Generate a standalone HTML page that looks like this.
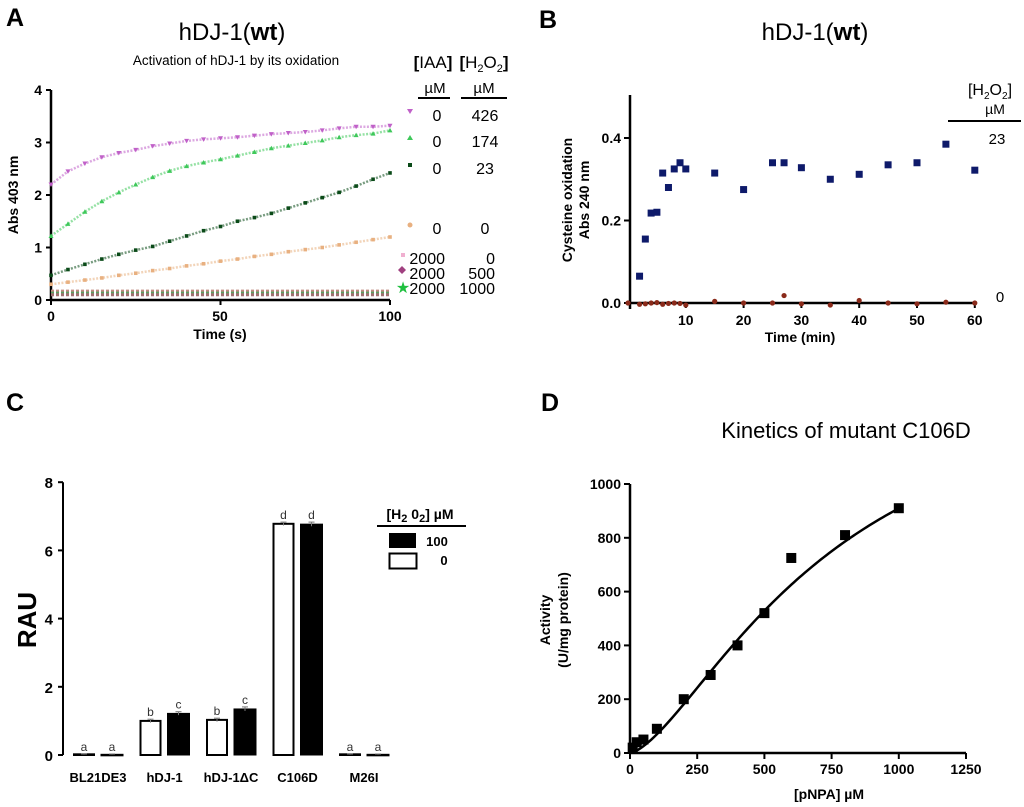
<!DOCTYPE html>
<html><head><meta charset="utf-8">
<style>
html,body{margin:0;padding:0;background:#fff;}
svg{display:block;font-family:"Liberation Sans",Arial,sans-serif;}
.b{font-weight:bold;}
</style></head>
<body>
<svg id="fig" width="1024" height="807" viewBox="0 0 1024 807" xmlns="http://www.w3.org/2000/svg">
<text x="6" y="26" font-size="25" class="b">A</text>
<text x="539" y="28" font-size="25" class="b">B</text>
<text x="6" y="411" font-size="25" class="b">C</text>
<text x="541" y="411" font-size="25" class="b">D</text>

<g id="panelA">
<text x="232" y="40" font-size="24" text-anchor="middle">hDJ-1(<tspan class="b">wt</tspan>)</text>
<text x="236" y="65" font-size="13.5" text-anchor="middle">Activation of hDJ-1 by its oxidation</text>
<text x="433" y="68" font-size="17" text-anchor="middle"><tspan class="b">[</tspan>IAA<tspan class="b">]</tspan></text>
<text x="484" y="68" font-size="17" text-anchor="middle"><tspan class="b">[</tspan>H<tspan font-size="11" dy="4">2</tspan><tspan dy="-4">O</tspan><tspan font-size="11" dy="4">2</tspan><tspan dy="-4" class="b">]</tspan></text>
<text x="435" y="93" font-size="15" text-anchor="middle">µM</text>
<text x="484" y="93" font-size="15" text-anchor="middle">µM</text>
<line x1="418" y1="98" x2="450" y2="98" stroke="#000" stroke-width="2"/>
<line x1="461" y1="98" x2="507" y2="98" stroke="#000" stroke-width="2"/>
<text x="51" y="321" font-size="14" class="b" text-anchor="middle">0</text>
<text x="220" y="321" font-size="14" class="b" text-anchor="middle">50</text>
<text x="390" y="321" font-size="14" class="b" text-anchor="middle">100</text>
<text x="220" y="339" font-size="14" class="b" text-anchor="middle">Time (s)</text>
<text transform="translate(18,195) rotate(-90)" font-size="14" class="b" text-anchor="middle">Abs 403 nm</text>
</g>

<g id="panelB">
<text x="815" y="40" font-size="24" text-anchor="middle">hDJ-1(<tspan class="b">wt</tspan>)</text>
<text transform="translate(572,200) rotate(-90)" font-size="14" class="b" text-anchor="middle">Cysteine oxidation</text>
<text transform="translate(589,200) rotate(-90)" font-size="14" class="b" text-anchor="middle">Abs 240 nm</text>
<text x="800" y="342" font-size="14" class="b" text-anchor="middle">Time (min)</text>
<text x="990" y="95" font-size="16" text-anchor="middle">[H<tspan font-size="10" dy="4">2</tspan><tspan dy="-4">O</tspan><tspan font-size="10" dy="4">2</tspan><tspan dy="-4">]</tspan></text>
<text x="995" y="114" font-size="14" text-anchor="middle">µM</text>
<line x1="948" y1="121" x2="1021" y2="121" stroke="#000" stroke-width="2"/>
<text x="997" y="144" font-size="15" text-anchor="middle">23</text>
<text x="1000" y="302" font-size="15" text-anchor="middle">0</text>
</g>

<g id="panelC">
<text transform="translate(36,620) rotate(-90)" font-size="26" class="b" text-anchor="middle">RAU</text>
<text x="420" y="519" font-size="14" class="b" text-anchor="middle">[H<tspan font-size="11" dy="3">2</tspan><tspan dy="-3"> 0</tspan><tspan font-size="11" dy="3">2</tspan><tspan dy="-3">] µM</tspan></text>
<line x1="377" y1="526" x2="466" y2="526" stroke="#000" stroke-width="2"/>
<rect x="389" y="533" width="27" height="15" fill="#000"/>
<rect x="389.5" y="553.5" width="27" height="15" fill="#fff" stroke="#000" stroke-width="2"/>
<text x="437" y="546" font-size="13" class="b" text-anchor="middle">100</text>
<text x="444" y="565" font-size="13" class="b" text-anchor="middle">0</text>
</g>

<g id="panelD">
<text x="846" y="438" font-size="22" text-anchor="middle">Kinetics of mutant C106D</text>
<text transform="translate(550,620) rotate(-90)" font-size="14" class="b" text-anchor="middle">Activity</text>
<text transform="translate(568,620) rotate(-90)" font-size="14" class="b" text-anchor="middle">(U/mg protein)</text>
<text x="829" y="799" font-size="14" class="b" text-anchor="middle">[pNPA] µM</text>
</g>
</svg>

<script>
const aTimes = [0,5,10,15,20,25,30,35,40,45,50,55,60,65,70,75,80,85,90,95,100];
const aMagenta = [2.2,2.45,2.6,2.72,2.8,2.86,2.93,2.98,3.03,3.06,3.08,3.1,3.13,3.16,3.18,3.2,3.23,3.27,3.3,3.3,3.32];
const aGreen = [1.22,1.45,1.68,1.88,2.05,2.2,2.34,2.46,2.55,2.62,2.68,2.75,2.82,2.89,2.94,2.99,3.04,3.1,3.14,3.17,3.23];
const aDark = [0.47,0.58,0.68,0.78,0.87,0.95,1.02,1.12,1.22,1.32,1.4,1.5,1.57,1.65,1.75,1.85,1.95,2.05,2.17,2.3,2.42];
const aTan = [0.3,0.34,0.38,0.42,0.47,0.51,0.56,0.6,0.65,0.69,0.74,0.78,0.83,0.87,0.92,0.96,1.0,1.05,1.1,1.15,1.2];
const aFlat1 = [0.17,0.17,0.17,0.17,0.17,0.17,0.17,0.17,0.17,0.17,0.17,0.17,0.17,0.17,0.17,0.17,0.17,0.17,0.17,0.17,0.17];
const aFlat2 = [0.13,0.13,0.13,0.13,0.13,0.13,0.13,0.13,0.13,0.13,0.13,0.13,0.13,0.13,0.13,0.13,0.13,0.13,0.13,0.13,0.13];
const aFlat3 = [0.1,0.1,0.1,0.1,0.1,0.1,0.1,0.1,0.1,0.1,0.1,0.1,0.1,0.1,0.1,0.1,0.1,0.1,0.1,0.1,0.1];
const aYTicks = [0,1,2,3,4];
const aLegendIAA = ["0","0","0","0","2000","2000","2000"];
const aLegendH2O2 = ["426","174","23","0","0","500","1000"];

const bTimes23 = [2,3,4,5,6,7,8,9,10,15,20,25,27,30,35,40,45,50,55,60];
const bVals23 = [0.065,0.155,0.218,0.22,0.315,0.28,0.325,0.34,0.325,0.315,0.275,0.34,0.34,0.328,0.3,0.312,0.335,0.34,0.385,0.322];
const bTimes0 = [0,2,3,4,5,6,7,8,9,10,15,20,25,27,30,35,40,45,50,55,60];
const bVals0 = [0,-0.003,-0.002,0,0.001,-0.003,-0.001,0,-0.001,-0.005,0.004,0,0,0.018,-0.002,-0.005,0.006,0,-0.002,0.002,0];
const bXTicks = [10,20,30,40,50,60];
const bYTicks = [0,0.2,0.4];
const bYTickLabels = ["0.0","0.2","0.4"];

const cCategories = ["BL21DE3","hDJ-1","hDJ-1\u0394C","C106D","M26I"];
const cVals0 = [0.02,1.0,1.03,6.78,0.02];
const cVals100 = [0.02,1.22,1.35,6.77,0.02];
const cErr0 = [0.01,0.05,0.05,0.05,0.01];
const cErr100 = [0.01,0.05,0.06,0.06,0.01];
const cLetters0 = ["a","b","b","d","a"];
const cLetters100 = ["a","c","c","d","a"];
const cYTicks = [0,2,4,6,8];

const dX = [10,25,50,100,200,300,400,500,600,800,1000];
const dY = [20,40,50,90,200,290,400,520,725,810,910];
const dFitVmax = [1500];
const dFitK = [750];
const dFitN = [1.5];
const dXTicks = [0,250,500,750,1000,1250];
const dYTicks = [0,200,400,600,800,1000];

const NS = "http://www.w3.org/2000/svg";
const svg = document.getElementById('fig');
function mk(tag, attrs, parent){
  const e = document.createElementNS(NS, tag);
  for (const k in attrs) e.setAttribute(k, attrs[k]);
  (parent||svg).appendChild(e);
  return e;
}
function txt(x,y,s,size,anchor,bold,parent){
  const t = mk('text',{x:x,y:y,'font-size':size,'text-anchor':anchor||'middle'},parent);
  if(bold) t.setAttribute('font-weight','bold');
  t.textContent = s;
  return t;
}

const gA = document.getElementById('panelA');
const axA = {x0:51, x1:390, y0:300, y1:90};
const xA = v => axA.x0 + v/100*(axA.x1-axA.x0);
const yA = v => axA.y0 - v/4*(axA.y0-axA.y1);
let e;
e = mk('line',{x1:axA.x0,y1:yA(0),x2:axA.x1,y2:yA(0),stroke:'#000','stroke-width':2.5},gA);


e = mk('line',{x1:axA.x0,y1:yA(0)+1,x2:axA.x0,y2:yA(4),stroke:'#000','stroke-width':2.5},gA);


[0,50,100].forEach(v=>{ mk('line',{x1:xA(v),y1:yA(0),x2:xA(v),y2:yA(0)+5,stroke:'#000','stroke-width':2},gA); });
aYTicks.forEach(v=>{
  mk('line',{x1:axA.x0-5,y1:yA(v),x2:axA.x0,y2:yA(v),stroke:'#000','stroke-width':2},gA);
  e = txt(axA.x0-9, yA(v)+5, String(v), 14, 'end', true, gA);
  
  
});
function seriesA(vals, color, shape, name){
  const g = mk('g',{},gA);
  
  
  const pts = aTimes.map((t,i)=>xA(t)+','+yA(vals[i])).join(' ');
  mk('polyline',{points:pts,fill:'none',stroke:color,'stroke-width':2.5,'stroke-opacity':0.55,'stroke-dasharray':'2 1.5'},g);
  aTimes.forEach((t,i)=>{
    const x=xA(t), y=yA(vals[i]);
    let m;
    if(shape==='down') m = mk('polygon',{points:`${x-2.5},${y-2} ${x+2.5},${y-2} ${x},${y+2.5}`,fill:color},g);
    else if(shape==='up') m = mk('polygon',{points:`${x-2.5},${y+2} ${x+2.5},${y+2} ${x},${y-2.5}`,fill:color},g);
    else m = mk('rect',{x:x-1.8,y:y-1.8,width:3.6,height:3.6,fill:color},g);
    
    
  });
}
seriesA(aMagenta,'#c060c8','down','series-a-426');
seriesA(aGreen,'#3ec85a','up','series-a-174');
seriesA(aDark,'#0a4a18','sq','series-a-23');
seriesA(aTan,'#e8b080','sq','series-a-0');
[[aFlat1,'#c08a80'],[aFlat2,'#5aa060'],[aFlat3,'#a07070']].forEach((s,k)=>{
  const g = mk('g',{},gA);
  
  
  mk('polyline',{points:aTimes.map((t,i)=>xA(t)+','+yA(s[0][i])).join(' '),fill:'none',stroke:s[1],'stroke-width':3,'stroke-dasharray':'3 2'},g);
});
const legY = [116,142,169,229,259,274,289];
const legMk = [['down','#c060c8'],['up','#3ec85a'],['sq','#0a4a18'],['dot','#e8b080'],['sq','#f0b0d0'],['dia','#a04080'],['star','#20c040']];
legY.forEach((y,i)=>{
  const mx = i>=4?403:410;
  const t=legMk[i][0], c=legMk[i][1];
  let m;
  if(t==='down') m=mk('polygon',{points:`${mx-3},${y-7} ${mx+3},${y-7} ${mx},${y-2}`,fill:c},gA);
  else if(t==='up') m=mk('polygon',{points:`${mx-3},${y-2} ${mx+3},${y-2} ${mx},${y-7}`,fill:c},gA);
  else if(t==='sq') m=mk('rect',{x:mx-2,y:y-6,width:4,height:4,fill:c},gA);
  else if(t==='dot') m=mk('circle',{cx:mx,cy:y-4,r:2.5,fill:c},gA);
  else if(t==='dia') m=mk('polygon',{points:`${mx-5},${y-4} ${mx-1},${y-8} ${mx+3},${y-4} ${mx-1},${y}`,fill:c},gA);
  else { m=mk('text',{x:mx,y:y+4,'font-size':16,fill:c,'text-anchor':'middle'},gA); m.textContent='\u2605'; }
  
  
  const big = i>=4;
  e = txt(big?445:437, y+5, aLegendIAA[i], 16, big?'end':'middle', false, gA);
  
  
  e = txt(big?495:485, y+5, aLegendH2O2[i], 16, big?'end':'middle', false, gA);
  
  
});

const gB = document.getElementById('panelB');
const axB = {x0:628, pxPerMin:5.78, y0:303, pxPerUnit:412.5, top:95};
const xB = v => axB.x0 + v*axB.pxPerMin;
const yB = v => axB.y0 - v*axB.pxPerUnit;
e = mk('line',{x1:xB(0),y1:yB(0),x2:xB(60),y2:yB(0),stroke:'#000','stroke-width':2.5},gB);


e = mk('line',{x1:axB.x0+2,y1:yB(0)+6,x2:axB.x0+2,y2:axB.top,stroke:'#000','stroke-width':2.5},gB);


bXTicks.forEach(v=>{
  mk('line',{x1:xB(v),y1:yB(0),x2:xB(v),y2:yB(0)+5,stroke:'#000','stroke-width':2},gB);
  e = txt(xB(v), 325, String(v), 14, 'middle', true, gB);
  
  
});
bYTicks.forEach((v,i)=>{
  mk('line',{x1:axB.x0-4,y1:yB(v),x2:axB.x0+2,y2:yB(v),stroke:'#000','stroke-width':2},gB);
  e = txt(axB.x0-7, yB(v)+5, bYTickLabels[i], 14, 'end', true, gB);
  
  
});
bTimes0.forEach((t,i)=>{
  e = mk('circle',{cx:xB(t),cy:yB(bVals0[i]),r:2.6,fill:'#8a2a1a'},gB);
  
  
});
bTimes23.forEach((t,i)=>{
  e = mk('rect',{x:xB(t)-3.5,y:yB(bVals23[i])-3.5,width:7,height:7,fill:'#0e1a6a'},gB);
  
  
});

const gC = document.getElementById('panelC');
const axC = {x0:63, y0:755, pxPerUnit:34.1, groupStart:98, groupStep:66.5, barW:22, gap:6};
const yC = v => axC.y0 - v*axC.pxPerUnit;
e = mk('line',{x1:axC.x0,y1:axC.y0,x2:axC.x0,y2:yC(8),stroke:'#000','stroke-width':2},gC);


cYTicks.forEach(v=>{
  mk('line',{x1:axC.x0-5,y1:yC(v),x2:axC.x0,y2:yC(v),stroke:'#000','stroke-width':2},gC);
  e = txt(axC.x0-10, yC(v)+6, String(v), 15, 'end', true, gC);
  
  
});
cCategories.forEach((c,i)=>{
  const cx = axC.groupStart + i*axC.groupStep;
  const xo = cx - axC.gap/2 - axC.barW, xb = cx + axC.gap/2;
  const h0 = cVals0[i]*axC.pxPerUnit, h1 = cVals100[i]*axC.pxPerUnit;
  e = mk('rect',{x:xo+1,y:yC(cVals0[i]),width:axC.barW-2,height:Math.max(h0,0.5),fill:'#fff',stroke:'#000','stroke-width':2},gC);
  
  
  e = mk('rect',{x:xb,y:yC(cVals100[i]),width:axC.barW,height:Math.max(h1,1.5),fill:'#000',stroke:'#000','stroke-width':1},gC);
  
  
  [[xo+axC.barW/2,cVals0[i],cErr0[i],cLetters0[i]],[xb+axC.barW/2,cVals100[i],cErr100[i],cLetters100[i]]].forEach(d=>{
    mk('line',{x1:d[0],y1:yC(d[1]+d[2]),x2:d[0],y2:yC(d[1]-d[2]),stroke:'#777','stroke-width':1},gC);
    mk('line',{x1:d[0]-3,y1:yC(d[1]+d[2]),x2:d[0]+3,y2:yC(d[1]+d[2]),stroke:'#777','stroke-width':1},gC);
    e = txt(d[0], yC(d[1]+d[2])-3, d[3], 12, 'middle', false, gC);
    e.setAttribute('fill','#333');
    
    
  });
  e = txt(cx, 782, c, 13, 'middle', true, gC);
  
  
});

const gD = document.getElementById('panelD');
const axD = {x0:630, y0:753, pxX:0.2688, pxY:0.269};
const xD = v => axD.x0 + v*axD.pxX;
const yD = v => axD.y0 - v*axD.pxY;
e = mk('line',{x1:xD(0),y1:yD(0),x2:xD(1250),y2:yD(0),stroke:'#000','stroke-width':2.5},gD);


e = mk('line',{x1:xD(0),y1:yD(0)+1,x2:xD(0),y2:yD(1000),stroke:'#000','stroke-width':2.5},gD);


dXTicks.forEach(v=>{
  mk('line',{x1:xD(v),y1:yD(0),x2:xD(v),y2:yD(0)+6,stroke:'#000','stroke-width':2},gD);
  e = txt(xD(v), 774, String(v), 14, 'middle', true, gD);
  
  
});
dYTicks.forEach(v=>{
  mk('line',{x1:xD(0)-6,y1:yD(v),x2:xD(0),y2:yD(v),stroke:'#000','stroke-width':2},gD);
  e = txt(xD(0)-9, yD(v)+5, String(v), 14, 'end', true, gD);
  
  
});
const fit = s => dFitVmax[0]*Math.pow(s,dFitN[0])/(Math.pow(dFitK[0],dFitN[0])+Math.pow(s,dFitN[0]));
let fp = [];
for(let s=0;s<=1000;s+=10) fp.push(xD(s)+','+yD(fit(s)));
e = mk('polyline',{points:fp.join(' '),fill:'none',stroke:'#000','stroke-width':2.5},gD);


dX.forEach((x,i)=>{
  e = mk('rect',{x:xD(x)-5,y:yD(dY[i])-5,width:10,height:10,fill:'#000'},gD);
  
  
});
</script>
</body></html>
